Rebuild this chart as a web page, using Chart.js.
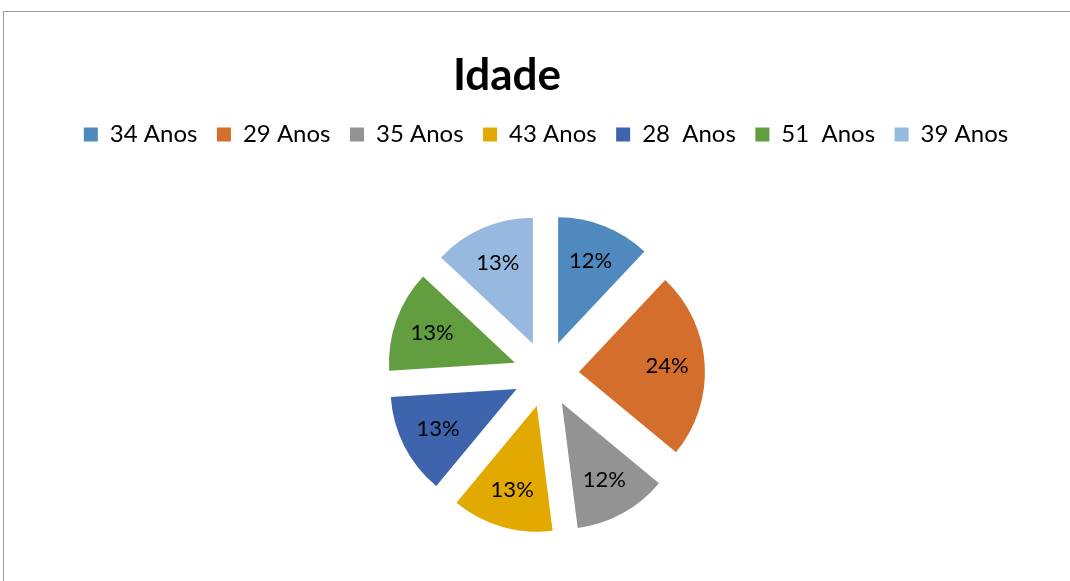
<!DOCTYPE html>
<html>
<head>
<meta charset="utf-8">
<script src="https://cdn.jsdelivr.net/npm/chart.js@4/dist/chart.umd.min.js"></script>
<style>
    html, body { margin: 0; padding: 0; background: #fff; overflow: hidden; }
    #frame { position: absolute; left: 3px; top: 11px; width: 1200px; height: 700px;
             border-top: 1px solid #9c9c9c; border-left: 1px solid #9c9c9c; }
    #pie { position: absolute; left: 0; top: 0; }
</style>
</head>
<body>
<div id="frame"></div>
<canvas id="pie" width="1070" height="600"></canvas>
<script>
var chartTitle = "Idade";
var labels = ["34 Anos", "29 Anos", "35 Anos", "43 Anos", "28  Anos", "51  Anos", "39 Anos"];
var percents = [12, 24, 12, 13, 13, 13, 13];
var sliceColors = ["#4f89bd", "#d46e2c", "#939393", "#e2a900", "#3d64ad", "#629d40", "#97b9e0"];

var explodeBy = 33;

// title drawn by hand so it can sit left of the legend centre, like the original
var titlePlugin = {
    id: "titleText",
    afterDraw: function (chart) {
        var ctx = chart.ctx;
        ctx.save();
        ctx.font = "bold 44px Lato";
        ctx.fillStyle = "#000";
        ctx.textAlign = "center";
        ctx.textBaseline = "alphabetic";
        ctx.fillText(chartTitle, 507, 90);
        ctx.restore();
    }
};

// excel style explosion: shift each arc out along its middle angle,
// the built in offset option also narrows the arcs which excel doesn't do
var explodePlugin = {
    id: "explode",
    beforeDatasetsDraw: function (chart) {
        chart.getDatasetMeta(0).data.forEach(function (arc) {
            if (arc._exploded) return;
            arc._exploded = true;
            var base = arc.draw;
            arc.draw = function (ctx, area) {
                var mid = (this.startAngle + this.endAngle) / 2;
                ctx.save();
                ctx.translate(Math.cos(mid) * explodeBy, Math.sin(mid) * explodeBy);
                base.call(this, ctx, area);
                ctx.restore();
            };
        });
    }
};

var sliceLabels = {
    id: "sliceLabels",
    afterDatasetsDraw: function (chart) {
        var ctx = chart.ctx;
        var meta = chart.getDatasetMeta(0);
        ctx.save();
        ctx.font = "22px Lato";
        ctx.fillStyle = "#000";
        ctx.textAlign = "center";
        ctx.textBaseline = "middle";
        meta.data.forEach(function (arc, i) {
            var p = arc.getProps(["x", "y", "startAngle", "endAngle", "outerRadius"], true);
            var mid = (p.startAngle + p.endAngle) / 2;
            var d = explodeBy + p.outerRadius * 0.7;
            ctx.fillText(percents[i] + "%", p.x + Math.cos(mid) * d, p.y + Math.sin(mid) * d);
        });
        ctx.restore();
    }
};

new Chart("pie", {
    type: "pie",
    data: {
        labels: labels,
        datasets: [{
            data: percents,
            backgroundColor: sliceColors,
            borderWidth: 0
        }]
    },
    options: {
        responsive: false,
        animation: false,
        radius: 126,
        layout: { padding: { left: 22, right: 0, top: 103, bottom: 8.5 } },
        plugins: {
            title: { display: false },
            tooltip: { enabled: false },
            legend: {
                position: "top",
                labels: {
                    font: { family: "Lato", size: 24 },
                    color: "#000",
                    boxWidth: 14,
                    boxHeight: 14,
                    padding: 19.5
                }
            }
        }
    },
    plugins: [titlePlugin, explodePlugin, sliceLabels]
});
</script>
</body>
</html>
